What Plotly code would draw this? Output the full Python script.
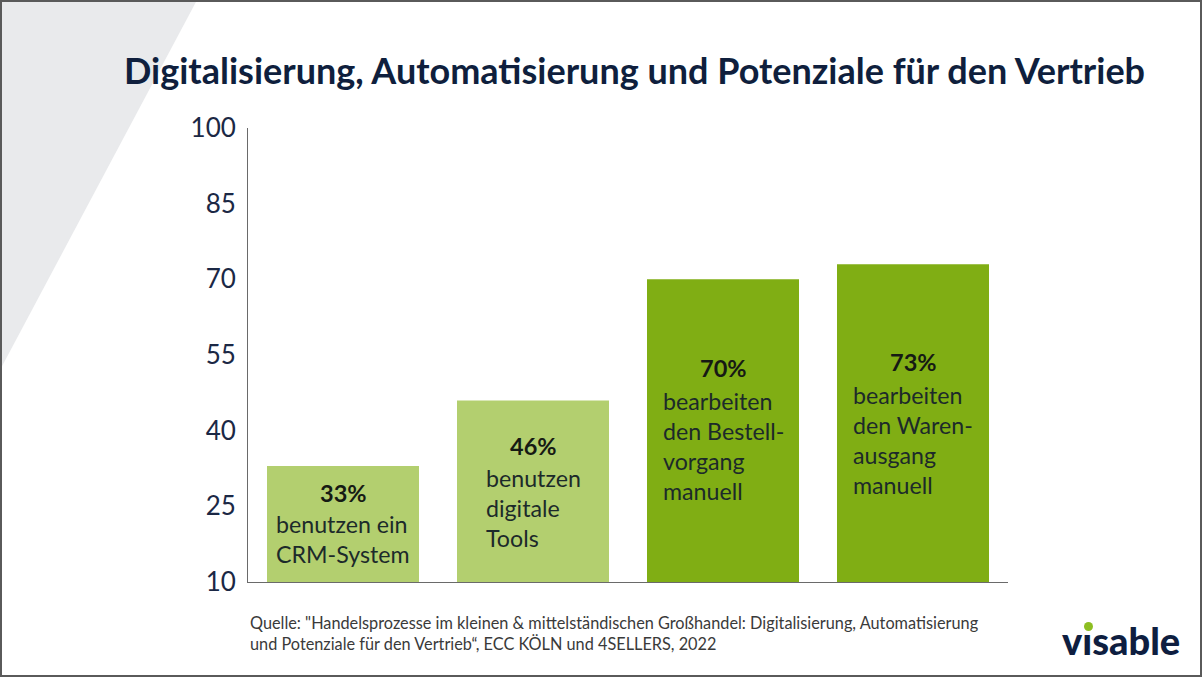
import plotly.graph_objects as go

# ---- data ----
categories = ["CRM", "Tools", "Bestellvorgang", "Warenausgang"]
values = [33, 46, 70, 73]
percent_labels = ["33%", "46%", "70%", "73%"]
descriptions = [
    "benutzen ein<br>CRM-System",
    "benutzen<br>digitale<br>Tools",
    "bearbeiten<br>den Bestell-<br>vorgang<br>manuell",
    "bearbeiten<br>den Waren-<br>ausgang<br>manuell",
]
tick_values = [10, 25, 40, 55, 70, 85, 100]
title_text = "Digitalisierung, Automatisierung und Potenziale für den Vertrieb"
source_text = ("Quelle: \"Handelsprozesse im kleinen &amp; mittelständischen Großhandel: Digitalisierung, Automatisierung<br>"
               "und Potenziale für den Vertrieb“, ECC KÖLN und 4SELLERS, 2022")

# ---- styling ----
bar_colors = ["#B3CF6F", "#B3CF6F", "#80AE14", "#80AE14"]
pct_y = [27.6, 37.0, 52.4, 53.6]
desc_y = [24.7, 33.7, 49.0, 50.2]
FONT = "Source Sans Pro, Lato, sans-serif"
NAVY = "#0F1F3D"

W, H = 1202, 677
L, R, T, B = 248, 1008, 128, 582


def px(x):
    return (x - L) / (R - L)


def py(y):
    return (B - y) / (B - T)


fig = go.Figure()
fig.add_trace(go.Bar(
    x=categories, y=values, marker=dict(color=bar_colors, line=dict(width=0)),
    hoverinfo="skip", showlegend=False,
))

annotations = []
for c, p, d, yp, yd in zip(categories, percent_labels, descriptions, pct_y, desc_y):
    annotations.append(dict(x=c, y=yp, xref="x", yref="y", text=f"<b>{p}</b>", showarrow=False,
                            font=dict(family=FONT, size=23.5, color="#161a14"), yanchor="middle"))
    annotations.append(dict(x=c, y=yd, xref="x", yref="y", text=d, showarrow=False, align="left",
                            font=dict(family=FONT, size=23.2, color="#1c2a2a"), yanchor="top"))

annotations.append(dict(x=px(634), y=py(70), xref="paper", yref="paper", text=f"<b>{title_text}</b>",
                        showarrow=False, font=dict(family=FONT, size=36, color=NAVY),
                        xanchor="center", yanchor="middle"))
annotations.append(dict(x=0, y=py(611), xref="paper", yref="paper", text=source_text, showarrow=False,
                        align="left", font=dict(family=FONT, size=16.3, color="#3a3a3a"),
                        xanchor="left", yanchor="top"))
annotations.append(dict(x=px(1121), y=py(640), xref="paper", yref="paper", text="vısable",
                        showarrow=False, font=dict(family="Lato, sans-serif", size=38, color="#0E1E40", weight=900),
                        xanchor="center", yanchor="middle"))

shapes = [
    dict(type="path", xref="paper", yref="paper", layer="below",
         path=f"M {px(0)} {py(0)} L {px(197)} {py(0)} L {px(0)} {py(370)} Z",
         fillcolor="#E9EAEC", line=dict(width=0)),
    dict(type="rect", xref="paper", yref="paper",
         x0=px(1), y0=py(1), x1=px(1201), y1=py(676),
         line=dict(color="#5a5a5a", width=2), fillcolor="rgba(0,0,0,0)"),
    dict(type="circle", xref="paper", yref="paper",
         x0=px(1084), y0=py(622), x1=px(1093), y1=py(631),
         fillcolor="#8DBE22", line=dict(width=0)),
]

fig.update_layout(
    width=W, height=H,
    margin=dict(l=L, r=W - R, t=T, b=H - B),
    paper_bgcolor="white", plot_bgcolor="white",
    bargap=0.2,
    annotations=annotations, shapes=shapes,
    xaxis=dict(showticklabels=False, showgrid=False, zeroline=False, showline=True,
               linecolor="#6a6a6a", linewidth=1, ticks=""),
    yaxis=dict(range=[10, 100], tickvals=tick_values, showgrid=False, zeroline=False,
               showline=True, linecolor="#6a6a6a", linewidth=1, ticks="",
               ticklabelstandoff=6,
               tickfont=dict(family=FONT, size=26, color="#1B2845")),
)

fig.write_html("out.html")
